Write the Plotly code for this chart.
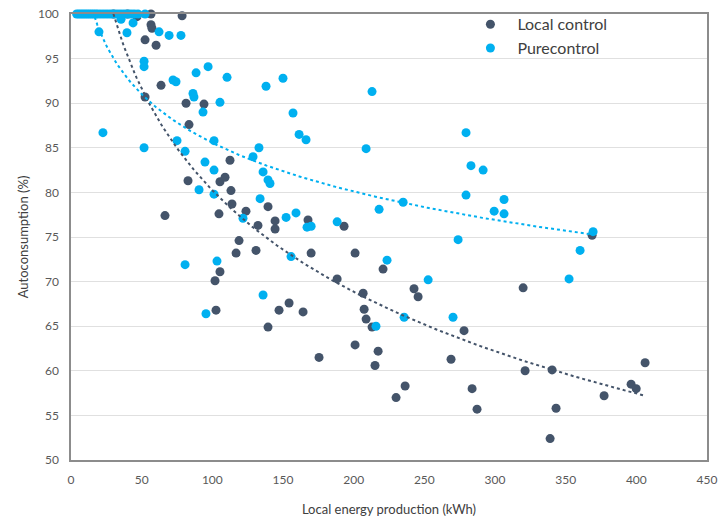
import numpy as np
import plotly.graph_objects as go

# ---- Data ----
local_x = [30, 40, 46.7, 56.6, 78.6, 56.6, 57.3, 52.4, 60.2, 63.7, 52.4, 81.4, 94.1, 83.5,
           112.5, 82.8, 105.4, 109.0, 113.2, 113.9, 66.5, 104.7, 123.8, 132.3, 118.9, 130.9,
           139.4, 144.4, 144.4, 167.7, 193.2, 116.8, 169.9, 201.0, 105.4, 101.9, 220.8, 188.3,
           206.7, 102.6, 147.2, 154.3, 164.2, 207.4, 208.8, 213.0, 139.4, 201.0, 217.3, 215.1,
           175.5, 236.4, 230.0, 242.7, 245.6, 319.9, 278.1, 268.9, 283.8, 287.3, 321.3, 340.4,
           343.2, 339.0, 377.2, 396.3, 399.9, 406.2, 368.7]
local_y = [100, 100, 99.7, 100, 99.8, 98.8, 98.4, 97.1, 96.5, 92.0, 90.7, 90.0, 89.9, 87.6,
           83.6, 81.3, 81.2, 81.7, 80.2, 78.7, 77.4, 77.6, 77.9, 76.3, 74.6, 73.5,
           78.4, 76.8, 75.9, 76.9, 76.2, 73.2, 73.2, 73.2, 71.1, 70.1, 71.4, 70.3,
           68.7, 66.8, 66.8, 67.6, 66.6, 66.9, 65.8, 64.9, 64.9, 62.9, 62.2, 60.6,
           61.5, 58.3, 57.0, 69.2, 68.3, 69.3, 64.5, 61.3, 58.0, 55.7, 60.0, 60.1,
           55.8, 52.4, 57.2, 58.5, 58.0, 60.9, 75.2]

pure_x = [4, 5.5, 7, 8.5, 10, 11.5, 13, 14.5, 16, 17.5, 19, 21, 23, 25, 27, 29, 31, 33, 35,
          37, 39, 41, 43, 45, 47.4, 52.4,
          35.4, 43.9, 19.8, 39.6, 62.3, 69.4, 77.8, 51.7, 51.7, 72.2, 74.3, 88.5, 97.0, 110.4,
          86.3, 87.0, 105.4, 93.4, 22.6, 51.7, 75.0, 101.2, 80.7, 128.8, 133.0, 94.8, 101.2,
          90.6, 101.2, 121.7, 133.8, 138.0, 150.0, 213.0, 157.1, 161.4, 166.3, 208.8, 135.9,
          139.4, 140.8, 152.2, 159.2, 167.0, 169.9, 188.3, 218.0, 235.0, 103.3, 155.7, 223.6,
          135.9, 95.5, 215.8, 235.7, 80.7, 279.5, 283.0, 291.6, 279.5, 306.4, 299.4, 306.4,
          369.4, 273.9, 360.2, 252.7, 352.4, 270.3]
pure_y = [100] * 26 + \
         [99.4, 99.0, 98.0, 97.9, 98.0, 97.6, 97.6, 94.7, 94.1, 92.6, 92.4, 93.4, 94.1, 92.9,
          91.1, 90.7, 90.1, 89.0, 86.7, 85.0, 85.8, 85.8, 84.6, 84.0, 85.0, 83.4, 82.5,
          80.3, 79.8, 77.1, 79.3, 91.9, 92.8, 91.3, 88.9, 86.5, 85.9, 84.9, 82.3,
          81.4, 81.0, 77.2, 77.7, 76.1, 76.2, 76.7, 78.1, 78.9, 72.3, 72.8, 72.4,
          68.5, 66.4, 65.0, 66.0, 71.9, 86.7, 83.0, 82.5, 79.7, 79.2, 77.9, 77.6,
          75.6, 74.7, 73.5, 70.2, 70.3, 66.0]

# Logarithmic trendline coefficients (y = a + b*ln(x))
local_trend = [155.9, -16.43]
pure_trend = [121.8, -7.87]

x_ticks = [0, 50, 100, 150, 200, 250, 300, 350, 400, 450]
y_ticks = [50, 55, 60, 65, 70, 75, 80, 85, 90, 95, 100]

DARK = "#44546A"
BLUE = "#00B0F0"


def log_trend(xs, coef):
    xs = np.asarray(xs, float)
    xt = np.linspace(xs.min(), xs.max(), 300)
    return xt, coef[0] + coef[1] * np.log(xt)


fig = go.Figure()
fig.add_trace(go.Scatter(x=local_x, y=local_y, mode="markers", name="Local control",
                         marker=dict(color=DARK, size=9), cliponaxis=False))
fig.add_trace(go.Scatter(x=pure_x, y=pure_y, mode="markers", name="Purecontrol",
                         marker=dict(color=BLUE, size=9), cliponaxis=False))

tx, ty = log_trend(local_x, local_trend)
fig.add_trace(go.Scatter(x=tx, y=ty, mode="lines", showlegend=False, hoverinfo="skip",
                         line=dict(color=DARK, width=2, dash="dot")))
tx, ty = log_trend(pure_x, pure_trend)
fig.add_trace(go.Scatter(x=tx, y=ty, mode="lines", showlegend=False, hoverinfo="skip",
                         line=dict(color=BLUE, width=2, dash="dot")))

fig.update_layout(
    width=719, height=517,
    margin=dict(l=71, r=12, t=14, b=57, autoexpand=False),
    paper_bgcolor="white", plot_bgcolor="white",
    font=dict(family="Lato, Carlito, sans-serif", color="#595959", size=12),
    legend=dict(x=0.617, y=1.015, xanchor="left", yanchor="top",
                bgcolor="rgba(0,0,0,0)", font=dict(size=16, color="#404040"),
                itemsizing="trace", tracegroupgap=0, itemwidth=44),
    showlegend=True,
)
fig.update_xaxes(range=[0, 450], tickvals=x_ticks, showgrid=False, zeroline=False,
                 showline=True, linecolor="#8c8c8c", linewidth=1.5, mirror=True,
                 ticks="", ticklabelstandoff=8, automargin=False,
                 title=dict(text="Local energy production (kWh)", font=dict(size=13, color="#404040"),
                            standoff=19))
fig.update_yaxes(range=[50, 100], tickvals=y_ticks, showgrid=True, gridcolor="#e0e0e0",
                 gridwidth=1, zeroline=False,
                 showline=True, linecolor="#8c8c8c", linewidth=1.5, mirror=True,
                 ticks="", ticklabelstandoff=8, automargin=False,
                 title=dict(text="Autoconsumption (%)", font=dict(size=13, color="#404040"),
                            standoff=6))

fig.write_html("out.html", config={"displayModeBar": False},
               post_script="document.body.style.margin='0px';")
